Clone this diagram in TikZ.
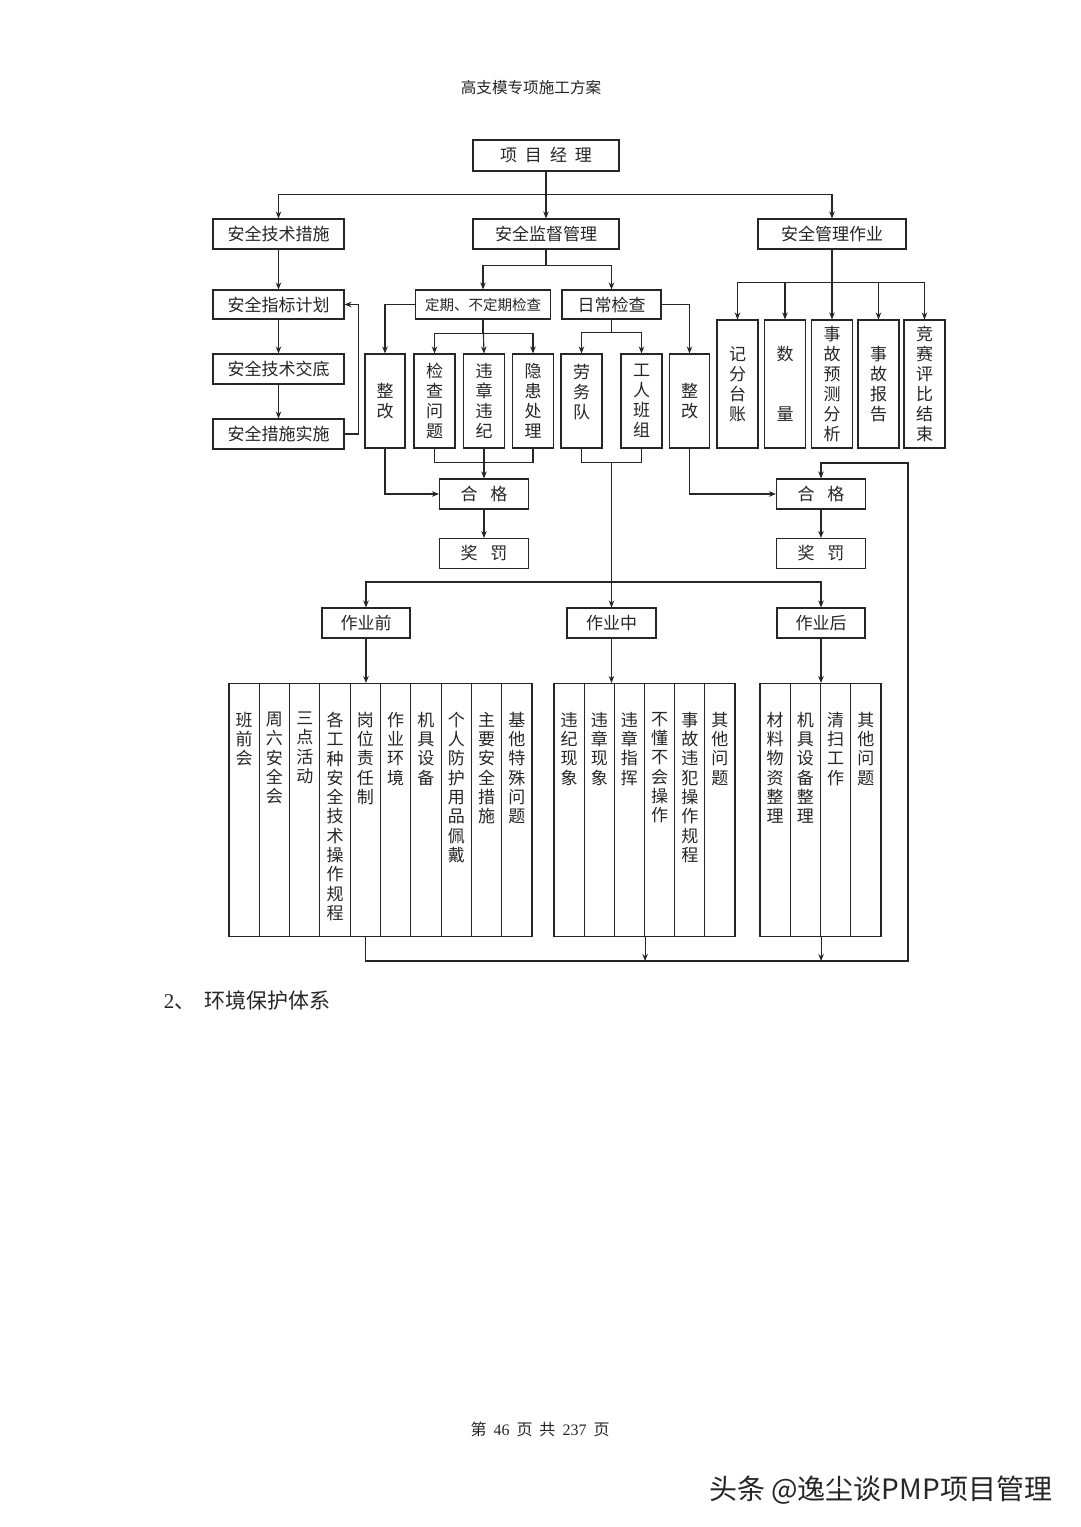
\documentclass[tikz,border=0pt]{standalone}
\usepackage{fontspec}
\setmainfont{Liberation Serif}
\newfontfamily\cjk{Noto Sans CJK SC}
\usetikzlibrary{arrows.meta,calc}

\newcommand*{\boxfont}{\cjk\fontsize{17}{20}\selectfont}
\newcommand*{\colfont}{\cjk\fontsize{17}{19.3}\selectfont}
\newcommand*{\coltext}[1]{\parbox[c][236pt][t]{28pt}{\centering\vspace*{20pt}#1}}

\begin{document}
\begin{tikzpicture}
[
	x=1pt,
	y=-1pt,
	line width=1.1pt,
	color=black!85,
	>={Stealth[length=7pt,width=5.5pt]},
	box/.style={draw,rectangle,inner sep=0pt,font=\boxfont,minimum height=30pt},
	tallbox/.style={draw,rectangle,inner sep=0pt,align=center,font=\boxfont,minimum width=41pt},
	colbox/.style={draw,rectangle,inner sep=0pt,anchor=north,font=\colfont,minimum width=30.3pt,minimum height=253pt}
]

	\fill[white] (0,0) rectangle (1080,1527);
	\useasboundingbox (0,0) rectangle (1080,1527);

	\node[font=\cjk\fontsize{15.6}{18}\selectfont] (title) at (531,88) {高支模专项施工方案};

	% top level
	\node[box,minimum width=146pt,minimum height=31pt] (pm) at (546,155.5) {项\hspace{8pt}目\hspace{8pt}经\hspace{8pt}理};
	\node[box,minimum width=131pt] (techm) at (278.5,234) {安全技术措施};
	\node[box,minimum width=146pt] (supv) at (546,234) {安全监督管理};
	\node[box,minimum width=148pt] (mgmt) at (832,234) {安全管理作业};

	\draw[->] (pm.south) -- (supv.north);
	\draw[->] (pm.south) -- ++(0,22.5) -| (techm.north);
	\draw[->] (pm.south) -- ++(0,22.5) -| (mgmt.north);

	% safety measures
	\node[box,minimum width=131pt,minimum height=29pt] (plan) at (278.5,304.5) {安全指标计划};
	\node[box,minimum width=131pt] (brief) at (278.5,369) {安全技术交底};
	\node[box,minimum width=131pt] (impl) at (278.5,434) {安全措施实施};

	\draw[->] (techm) -- (plan);
	\draw[->] (plan) -- (brief);
	\draw[->] (brief) -- (impl);
	\draw[->] (impl.east) -- ++(14,0) |- (plan.east);

	% inspections
	\node[box,minimum width=135pt,minimum height=29pt,font=\cjk\fontsize{14.5}{17}\selectfont] (regular) at (483,304.5) {定期、不定期检查};
	\node[box,minimum width=99pt,minimum height=29pt] (daily) at (611.5,304.5) {日常检查};

	\draw[->] (supv.south) -- ++(0,16) -| (regular.north);
	\draw[->] (supv.south) -- ++(0,16) -| (daily.north);

	\node[tallbox,minimum width=40pt,minimum height=94pt] (fixL) at (385,401) {整\\改};
	\node[tallbox,minimum height=94pt] (chk) at (434.5,401) {检\\查\\问\\题};
	\node[tallbox,minimum height=94pt] (viol) at (484,401) {违\\章\\违\\纪};
	\node[tallbox,minimum height=94pt] (haz) at (533,401) {隐\\患\\处\\理};
	\node[tallbox,minimum height=94pt] (labor) at (581.5,401) {劳\\务\\队\\\mbox{}};
	\node[tallbox,minimum height=94pt] (crew) at (641.5,401) {工\\人\\班\\组};
	\node[tallbox,minimum width=40pt,minimum height=94pt] (fixR) at (689.5,401) {整\\改};

	\draw[->] (regular.west) -| (fixL.north);
	\draw[->] (regular.south) -- ++(0,14) -| (chk.north);
	\draw[->] (regular.south) -- (viol.north);
	\draw[->] (regular.south) -- ++(0,14) -| (haz.north);
	\draw[->] (daily.south) -- ++(0,13) -| (labor.north);
	\draw[->] (daily.south) -- ++(0,13) -| (crew.north);
	\draw[->] (daily.east) -| (fixR.north);

	% management work
	\node[tallbox,minimum height=128pt] (rec) at (737.5,384) {记\\分\\台\\账};
	\node[tallbox,minimum height=128pt] (qty) at (785,384) {数\\[40pt]量};
	\node[tallbox,minimum height=128pt] (fcst) at (832,384) {事\\故\\预\\测\\分\\析};
	\node[tallbox,minimum height=128pt] (rpt) at (878.5,384) {事\\故\\报\\告};
	\node[tallbox,minimum height=128pt] (cont) at (924.5,384) {竞\\赛\\评\\比\\结\\束};

	\foreach \n in {rec,qty,fcst,rpt,cont}
		\draw[->] (mgmt.south) -- ++(0,33) -| (\n.north);

	% pass and reward
	\node[box,minimum width=89pt] (passL) at (484,494) {合\hspace{13pt}格};
	\node[box,minimum width=89pt] (rewardL) at (484,553.5) {奖\hspace{13pt}罚};
	\node[box,minimum width=89pt] (passR) at (821,494) {合\hspace{13pt}格};
	\node[box,minimum width=89pt] (rewardR) at (821,553.5) {奖\hspace{13pt}罚};

	\draw[->] (fixL.south) |- (passL.west);
	\draw (chk.south) -- ++(0,14) -| (haz.south);
	\draw[->] (viol.south) -- (passL.north);
	\draw[->] (passL) -- (rewardL);
	\draw[->] (fixR.south) |- (passR.west);
	\draw[->] (passR) -- (rewardR);

	% work stages
	\node[box,minimum width=88pt] (pre) at (366,623) {作业前};
	\node[box,minimum width=89pt] (mid) at (611.5,623) {作业中};
	\node[box,minimum width=88pt] (post) at (821,623) {作业后};

	\coordinate (jd) at ($(labor.south)!0.5!(crew.south)+(0,14)$);
	\coordinate (split) at (jd |- 0,582);
	\draw (labor.south) |- (jd) -| (crew.south);
	\draw[->] (jd) -- (mid.north);
	\draw[->] (split) -| (pre.north);
	\draw[->] (split) -| (post.north);

	% check lists
	\foreach \txt [count=\i] in {{班\\前\\会},{周\\六\\安\\全\\会},{三\\点\\活\\动},{各\\工\\种\\安\\全\\技\\术\\操\\作\\规\\程},{岗\\位\\责\\任\\制},{作\\业\\环\\境},{机\\具\\设\\备},{个\\人\\防\\护\\用\\品\\佩\\戴},{主\\要\\安\\全\\措\\施},{基\\他\\特\\殊\\问\\题}}
		\node[colbox] (tA\i) at ({229+30.3*\i-15.15},683) {\coltext{\txt}};
	\foreach \txt [count=\i] in {{违\\纪\\现\\象},{违\\章\\现\\象},{违\\章\\指\\挥},{不\\懂\\不\\会\\操\\作},{事\\故\\违\\犯\\操\\作\\规\\程},{其\\他\\问\\题}}
		\node[colbox,minimum width=30.17pt] (tB\i) at ({554+30.17*\i-15.08},683) {\coltext{\txt}};
	\foreach \txt [count=\i] in {{材\\料\\物\\资\\整\\理},{机\\具\\设\\备\\整\\理},{清\\扫\\工\\作},{其\\他\\问\\题}}
		\node[colbox,minimum width=30.25pt] (tC\i) at ({760+30.25*\i-15.12},683) {\coltext{\txt}};

	\draw[->] (pre) -- (pre |- tA1.north);
	\draw[->] (mid) -- (mid |- tB1.north);
	\draw[->] (post) -- (post |- tC1.north);

	% feedback loop
	\coordinate (railB) at (908,961);
	\coordinate (railT) at (908,463);
	\draw[->] (tA5.south) |- (railB) -- (railT) -| (passR.north);
	\draw[->] (tB3.south east) -- (tB3.south east |- railB);
	\draw[->] (tC2.south east) -- (tC2.south east |- railB);

	\node[anchor=west,font=\fontsize{21}{25}\selectfont] (sect) at (160,1000) {2{\cjk 、}\hspace{9pt}{\cjk 环境保护体系}};
	\node[font=\fontsize{16}{19}\selectfont] (pageno) at (540,1429) {{\cjk 第}\hspace{7pt}46\hspace{7pt}{\cjk 页}\hspace{7pt}{\cjk 共}\hspace{7pt}237\hspace{7pt}{\cjk 页}};
	\node[anchor=east,font=\cjk\fontsize{28}{33}\selectfont] (mark) at (1056,1490) {头条 @逸尘谈PMP项目管理};

\end{tikzpicture}
\end{document}
